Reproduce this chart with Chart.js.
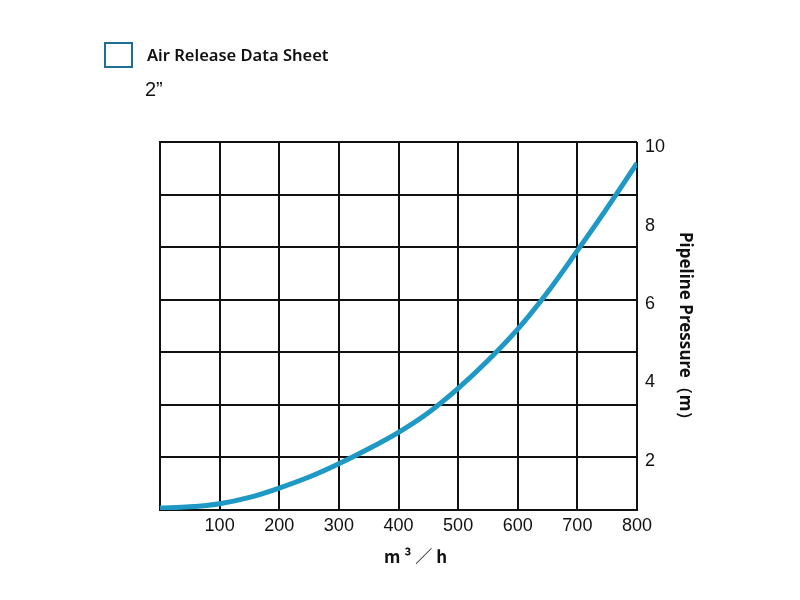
<!DOCTYPE html>
<html>
<head>
<meta charset="utf-8">
<script src="https://cdn.jsdelivr.net/npm/chart.js@4.4.1/dist/chart.umd.min.js"></script>
<style>
  body { margin: 0; background: #fff; }
  #wrap { position: relative; width: 800px; height: 600px; }
  #box { position: absolute; left: 104px; top: 42px; width: 25px; height: 22px; border: 2px solid #1d6f95; }
  #title { position: absolute; left: 147px; top: 43px; font: 600 16.5px "Noto Sans", sans-serif; color: #111; }
  #size { position: absolute; left: 145px; top: 78px; font: 20px "Liberation Sans", Arial, sans-serif; color: #111; }
  canvas { position: absolute; left: 0; top: 0; }
</style>
</head>
<body>
<div id="wrap">
  <canvas id="chart-pressure" width="800" height="600"></canvas>
  <div id="box"></div>
  <div id="title">Air Release Data Sheet</div>
  <div id="size">2”</div>
</div>
<script>
// air flow (m3/h) vs pipeline pressure (m)
var flow = [0, 50, 100, 150, 200, 250, 300, 350, 400, 450, 500, 550, 600, 650, 700, 750, 800];
var pressure = [0.8, 0.83, 0.91, 1.07, 1.31, 1.59, 1.93, 2.31, 2.73, 3.23, 3.85, 4.56, 5.36, 6.3, 7.36, 8.45, 9.59];
var pressureTicks = [2, 4, 6, 8, 10];
var flowTicks = [0, 100, 200, 300, 400, 500, 600, 700, 800];

var ctx = document.getElementById("chart-pressure").getContext("2d");

new Chart(ctx, {
  type: "line",
  data: {
    datasets: [
      {
        label: "2\"",
        data: flow.map(function (f, i) { return { x: f, y: pressure[i] }; }),
        borderColor: "#1e98c4",
        borderWidth: 5,
        pointRadius: 0,
        cubicInterpolationMode: "monotone",
        fill: false,
        yAxisID: "y",
      },
    ],
  },
  options: {
    responsive: false,
    animation: false,
    layout: { padding: { left: 160, top: 142, right: 105, bottom: 33 } },
    plugins: { legend: { display: false }, tooltip: { enabled: false } },
    scales: {
      x: {
        type: "linear",
        min: 0,
        max: 800,
        afterBuildTicks: function (axis) {
          axis.ticks = flowTicks.map(function (v) { return { value: v }; });
        },
        afterFit: function (axis) { axis.height = 57; },
        grid: { color: "#111", lineWidth: 2, drawTicks: false },
        border: { color: "#111", width: 2 },
        ticks: {
          color: "#111",
          padding: 5,
          maxRotation: 0,
          font: { size: 18, family: "Liberation Sans" },
          callback: function (v) { return v === 0 ? "" : v; },
        },
        title: {
          display: true,
          text: "\u2003\u2003m ³ ／ h",
          color: "#111",
          padding: 0,
          font: { size: 17, weight: "bold", family: "Noto Sans CJK SC" },
        },
      },
      y: {
        position: "right",
        min: 0.75,
        max: 10.13,
        afterBuildTicks: function (axis) {
          axis.ticks = pressureTicks.map(function (v) { return { value: v }; });
        },
        afterFit: function (axis) { axis.width = 58; },
        grid: { display: false, drawTicks: false },
        border: { display: false },
        ticks: {
          color: "#111",
          padding: 8,
          font: { size: 18, family: "Liberation Sans" },
        },
        title: {
          display: true,
          text: "\u2002Pipeline Pressure（m）",
          color: "#111",
          padding: 0,
          font: { size: 17, weight: "bold", family: "Noto Sans" },
        },
      },
      grid7: {
        position: "left",
        min: 0,
        max: 7,
        afterFit: function (axis) { axis.width = 0; },
        grid: { color: "#111", lineWidth: 2, drawTicks: false },
        border: { color: "#111", width: 2 },
        ticks: { display: false, stepSize: 1 },
      },
    },
  },
});
</script>
</body>
</html>
